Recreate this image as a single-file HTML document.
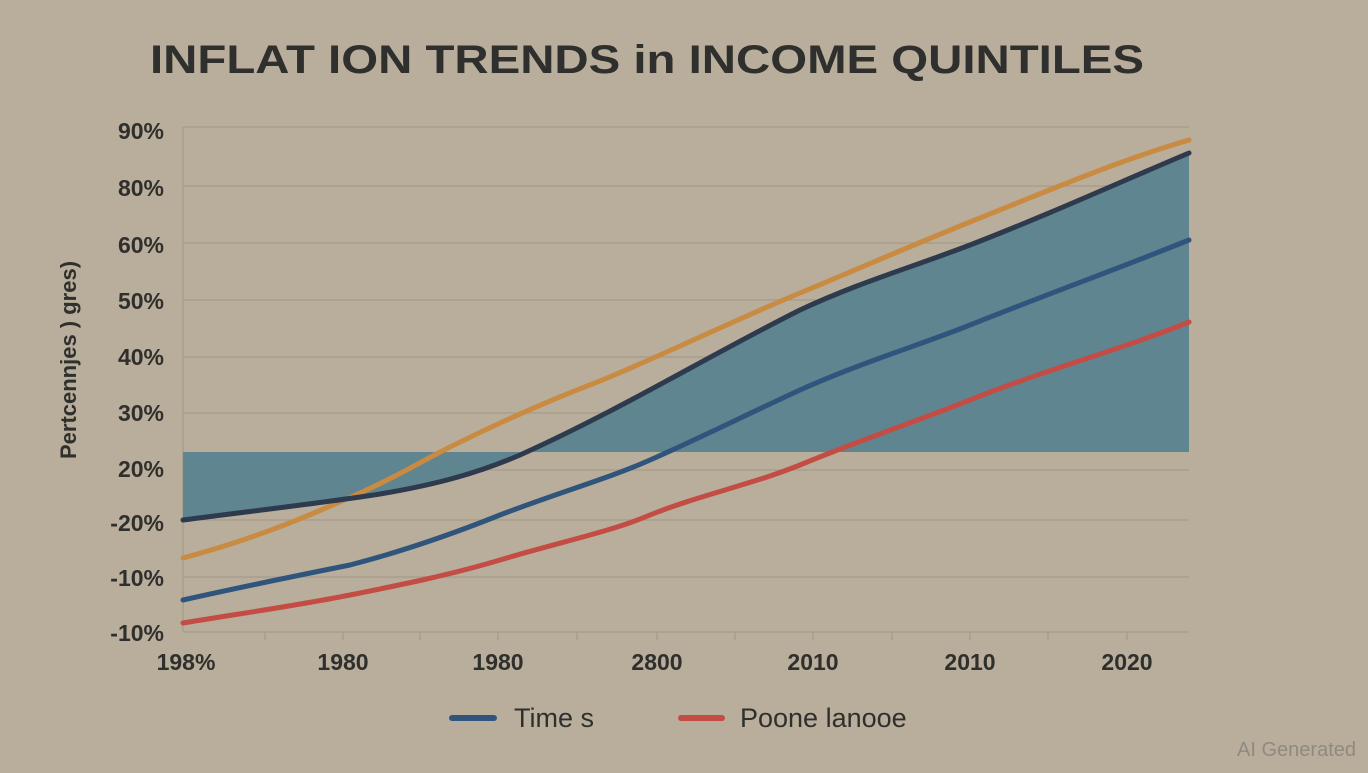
<!DOCTYPE html>
<html><head><meta charset="utf-8"><style>
html,body{margin:0;padding:0;background:#b9ae9b;}
body{width:1368px;height:768px;overflow:hidden;font-family:"Liberation Sans",sans-serif;}
</style></head><body>
<svg width="1368" height="768" viewBox="0 0 1368 768" xmlns="http://www.w3.org/2000/svg">
<rect width="1368" height="768" fill="#b9ae9b"/>
<text x="647" y="73" text-anchor="middle" font-family="Liberation Sans" font-weight="bold" font-size="40" fill="#2f2f2d" textLength="994" lengthAdjust="spacingAndGlyphs">INFLAT ION  TRENDS in INCOME QUINTILES</text>
<g stroke="#a89e8b" stroke-width="1.5">
<line x1="183" y1="127" x2="1189" y2="127"/>
<line x1="183" y1="186" x2="1189" y2="186"/>
<line x1="183" y1="243" x2="1189" y2="243"/>
<line x1="183" y1="300" x2="1189" y2="300"/>
<line x1="183" y1="357" x2="1189" y2="357"/>
<line x1="183" y1="413" x2="1189" y2="413"/>
<line x1="183" y1="470" x2="1189" y2="470"/>
<line x1="183" y1="520" x2="1189" y2="520"/>
<line x1="183" y1="577" x2="1189" y2="577"/>
<line x1="183" y1="632" x2="1189" y2="632"/>
<line x1="183" y1="127" x2="183" y2="632"/>
</g>
<g stroke="#a89e8b" stroke-width="1.5">
<line x1="265" y1="632" x2="265" y2="640"/><line x1="343" y1="632" x2="343" y2="640"/><line x1="420" y1="632" x2="420" y2="640"/><line x1="498" y1="632" x2="498" y2="640"/><line x1="577" y1="632" x2="577" y2="640"/><line x1="657" y1="632" x2="657" y2="640"/><line x1="735" y1="632" x2="735" y2="640"/><line x1="813" y1="632" x2="813" y2="640"/><line x1="892" y1="632" x2="892" y2="640"/><line x1="970" y1="632" x2="970" y2="640"/><line x1="1048" y1="632" x2="1048" y2="640"/><line x1="1127" y1="632" x2="1127" y2="640"/>
</g>
<path d="M183,452 L1189,452 L1189,153 C1120,182 1050,214 970,245 C910,268 860,282 800,310 C710,355 620,410 520,455 C480,472 440,484 380,494 C330,502 260,510 183,520 Z" fill="#5f8590"/>
<g fill="none" stroke-width="5" stroke-linecap="round">
<path d="M183,558 C250,540 300,520 360,493 C400,475 420,462 450,447 C500,422 550,400 600,381 C670,352 730,322 800,293 C860,268 920,242 970,222 C1050,190 1120,160 1189,140" stroke="#c98a42"/>
<path d="M183,520 C260,510 330,502 380,494 C440,484 480,472 520,455 C620,410 710,355 800,310 C860,282 910,268 970,245 C1050,214 1120,182 1189,153" stroke="#2e3a4e"/>
<path d="M183,600 C250,585 300,575 350,565 C400,552 450,535 500,515 C560,492 610,478 650,460 C700,438 750,413 800,390 C860,363 920,345 970,325 C1050,293 1120,268 1189,240" stroke="#2f557c"/>
<path d="M183,623 C250,612 300,605 350,595 C400,585 450,575 500,560 C560,542 610,532 650,515 C700,495 750,485 800,465 C860,440 920,420 970,400 C1050,368 1120,350 1189,322" stroke="#c34c44"/>
</g>
<g font-family="Liberation Sans" font-size="23" font-weight="bold" fill="#2f2f2d" text-anchor="end">
<text x="164" y="139">90%</text><text x="164" y="196">80%</text><text x="164" y="253">60%</text><text x="164" y="309">50%</text><text x="164" y="365">40%</text><text x="164" y="421">30%</text><text x="164" y="477">20%</text><text x="164" y="531">-20%</text><text x="164" y="586">-10%</text><text x="164" y="641">-10%</text>
</g>
<text transform="translate(76,360) rotate(-90)" text-anchor="middle" font-family="Liberation Sans" font-size="22" font-weight="bold" fill="#2f2f2d">Pertcennjes ) ɡres)</text>
<g font-family="Liberation Sans" font-size="23" font-weight="bold" fill="#2f2f2d" text-anchor="middle">
<text x="186" y="670">198%</text><text x="343" y="670">1980</text><text x="498" y="670">1980</text><text x="657" y="670">2800</text><text x="813" y="670">2010</text><text x="970" y="670">2010</text><text x="1127" y="670">2020</text>
</g>
<line x1="452" y1="718" x2="494" y2="718" stroke="#2f557c" stroke-width="6" stroke-linecap="round"/>
<text x="514" y="727" font-family="Liberation Sans" font-size="27" fill="#2f2f2d">Time s</text>
<line x1="681" y1="718" x2="722" y2="718" stroke="#c34c44" stroke-width="6" stroke-linecap="round"/>
<text x="740" y="727" font-family="Liberation Sans" font-size="27" fill="#2f2f2d">Poone lanooe</text>
<text x="1356" y="756" text-anchor="end" font-family="Liberation Sans" font-size="20" fill="#8f8a80">AI Generated</text>
</svg>
</body></html>
